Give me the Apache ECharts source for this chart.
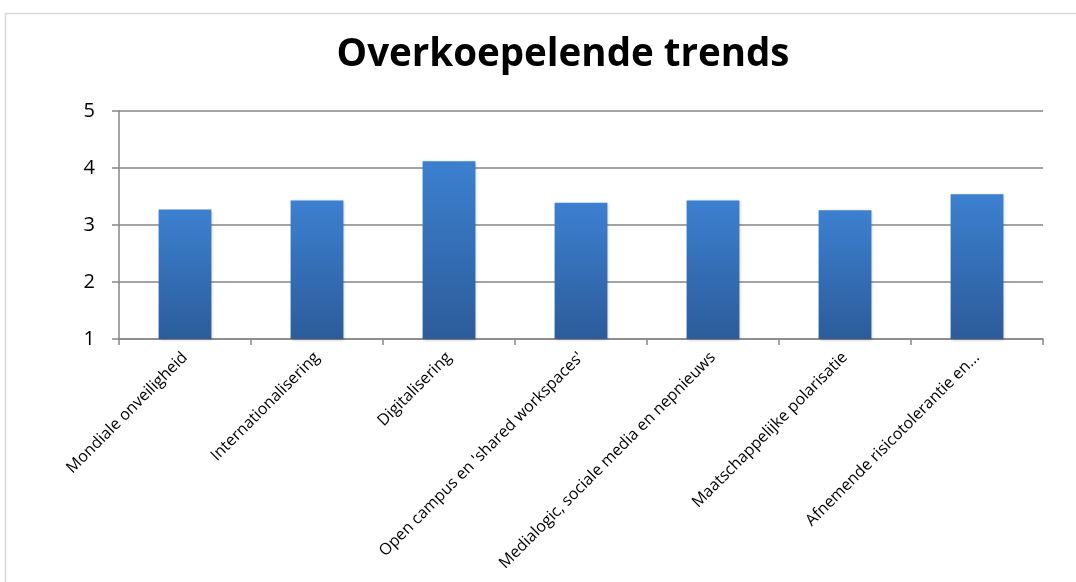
<!DOCTYPE html>
<html>
<head>
<meta charset="utf-8">
<script src="https://cdn.jsdelivr.net/npm/echarts@6/dist/echarts.min.js"></script>
<style>
html,body{margin:0;padding:0;background:#fff;}
#chart{width:1076px;height:582px;}
</style>
</head>
<body>
<div id="chart"></div>
<script>
const categories = [
  "Mondiale onveiligheid",
  "Internationalisering",
  "Digitalisering",
  "Open campus en 'shared workspaces'",
  "Medialogic, sociale media en nepnieuws",
  "Maatschappelijke polarisatie",
  "Afnemende risicotolerantie en..."
];
const values = [3.27, 3.43, 4.12, 3.39, 3.43, 3.26, 3.54];
const yTicks = [1, 2, 3, 4, 5];

const chart = echarts.init(document.getElementById('chart'));
chart.setOption({
  backgroundColor: '#fff',
  animation: false,
  title: {
    text: 'Overkoepelende trends',
    left: 558,
    textAlign: 'center',
    top: 31,
    textStyle: { fontFamily: 'Open Sans', fontWeight: 'bold', fontSize: 38.5, color: '#000' }
  },
  graphic: [{
    type: 'rect',
    shape: { x: 5.5, y: 13.5, width: 1200, height: 700 },
    style: { fill: 'none', stroke: '#d9d9d9', lineWidth: 1.5 },
    silent: true
  }],
  grid: { left: 119, right: 33, top: 111, height: 228 },
  xAxis: {
    type: 'category',
    data: categories,
    axisLine: { lineStyle: { color: '#868686', width: 1.5 } },
    axisTick: { show: true, length: 6, lineStyle: { color: '#868686', width: 1.5 } },
    axisLabel: { rotate: 45, interval: 0, margin: 16, fontFamily: 'Open Sans', fontSize: 16, color: '#000' }
  },
  yAxis: {
    type: 'value',
    min: yTicks[0],
    max: yTicks[yTicks.length - 1],
    interval: 1,
    axisLine: { show: true, lineStyle: { color: '#868686', width: 1.5 } },
    axisTick: { show: true, length: 7, lineStyle: { color: '#868686', width: 1.5 } },
    axisLabel: { margin: 24, fontFamily: 'Open Sans', fontSize: 20, color: '#000' },
    splitLine: { lineStyle: { color: '#868686', width: 1.5 } }
  },
  series: [{
    type: 'bar',
    data: values,
    barWidth: '40%',
    itemStyle: {
      color: new echarts.graphic.LinearGradient(0, 0, 0, 1, [
        { offset: 0, color: '#3c80d0' },
        { offset: 1, color: '#2c5c9a' }
      ]),
      shadowColor: 'rgba(0,0,0,0.25)',
      shadowBlur: 3,
      shadowOffsetX: 1,
      shadowOffsetY: 1
    }
  }]
});
</script>
</body>
</html>
